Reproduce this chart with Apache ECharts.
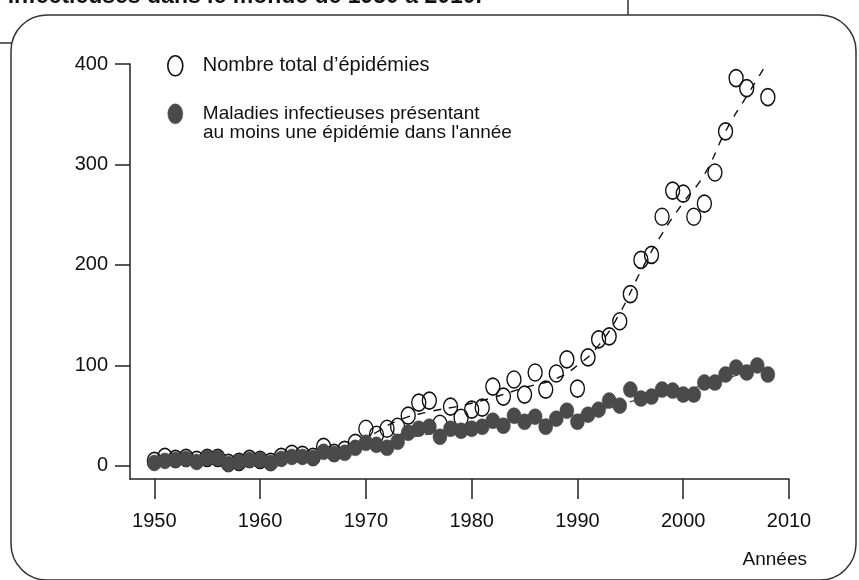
<!DOCTYPE html>
<html>
<head>
<meta charset="utf-8">
<title>Épidémies</title>
<script src="https://cdn.jsdelivr.net/npm/echarts@6/dist/echarts.min.js"></script>
<style>
  html, body { margin: 0; padding: 0; background: #fff; }
  #chart { width: 859px; height: 580px; }
</style>
</head>
<body>
<div id="chart"></div>
<script>
  // années observées
  var years = [1950, 1951, 1952, 1953, 1954, 1955, 1956, 1957, 1958, 1959,
    1960, 1961, 1962, 1963, 1964, 1965, 1966, 1967, 1968, 1969,
    1970, 1971, 1972, 1973, 1974, 1975, 1976, 1977, 1978, 1979,
    1980, 1981, 1982, 1983, 1984, 1985, 1986, 1987, 1988, 1989,
    1990, 1991, 1992, 1993, 1994, 1995, 1996, 1997, 1998, 1999,
    2000, 2001, 2002, 2003, 2004, 2005, 2006, 2007, 2008];
  // nombre total d'épidémies (cercles vides)
  var totalEpidemies = [5, 9, 7, 8, 6, 8, 8, 3, 4, 7,
    6, 4, 9, 12, 11, 9, 19, 13, 16, 23,
    37, 31, 37, 39, 50, 63, 65, 42, 59, 48,
    56, 58, 79, 69, 86, 71, 93, 76, 92, 106,
    77, 108, 126, 129, 144, 171, 205, 210, 248, 274,
    271, 248, 261, 292, 333, 386, 376, 418, 367];
  // maladies présentant au moins une épidémie (cercles pleins)
  var maladies = [3, 5, 6, 7, 4, 8, 8, 2, 4, 6,
    6, 3, 7, 9, 9, 8, 14, 12, 13, 18,
    23, 21, 18, 24, 33, 37, 39, 29, 37, 35,
    37, 39, 45, 40, 50, 44, 49, 39, 47, 55,
    44, 51, 56, 65, 60, 76, 67, 69, 76, 75,
    71, 71, 83, 83, 91, 98, 93, 100, 91];
  // courbes de tendance (pointillés)
  var totalTrendYears = [1950, 1955, 1960, 1964, 1967, 1970, 1973, 1976, 1979, 1982, 1985,
    1988, 1990, 1992, 1994, 1996, 1998, 2000, 2002, 2004, 2006, 2008];
  var totalTrend = [5, 6, 6, 9, 16, 28, 45, 54, 60, 68, 78,
    87, 100, 120, 152, 194, 231, 262, 290, 333, 368, 402];
  var maladiesTrendYears = [1950, 1955, 1960, 1965, 1970, 1975, 1980, 1985, 1990, 1995, 2000, 2005, 2008];
  var maladiesTrend = [4, 5, 5, 8, 19, 30, 37, 44, 51, 64, 75, 90, 98];
  // graduations
  var xTicks = [1950, 1960, 1970, 1980, 1990, 2000, 2010];
  var yTicks = [0, 100, 200, 300, 400];

  var FONT = '"Liberation Sans", Arial, Helvetica, sans-serif';
  var ELLIPSE = 'path://M1,0A1,1,0,1,1,-1,0A1,1,0,1,1,1,0Z';

  function pairs(xs, ys) {
    return xs.map(function (x, i) { return [x, ys[i]]; });
  }

  var chart = echarts.init(document.getElementById('chart'), null, { renderer: 'canvas' });

  var option = {
    animation: false,
    backgroundColor: '#fff',
    textStyle: { fontFamily: FONT },
    grid: { left: 130, right: 70, top: 64, bottom: 101 },
    legend: {
      orient: 'vertical',
      left: 162,
      top: 50,
      itemWidth: 15,
      itemHeight: 20,
      itemGap: 27,
      symbolKeepAspect: false,
      selectedMode: false,
      data: [
        {
          name: 'Nombre total d\u2019épidémies',
          icon: ELLIPSE,
          itemStyle: { color: 'rgba(255,255,255,0)', borderColor: '#111', borderWidth: 1.6 }
        },
        {
          name: 'Maladies infectieuses présentant',
          icon: ELLIPSE,
          itemStyle: { color: '#4a4a4a', borderColor: '#4a4a4a', borderWidth: 0.5 },
          textStyle: { fontSize: 19 }
        }
      ],
      textStyle: { fontSize: 20, color: '#111', fontFamily: FONT, padding: [0, 0, 0, 15] }
    },
    xAxis: {
      type: 'value',
      min: 1947.7,
      max: 2010,
      splitLine: { show: false },
      axisLine: { show: true, onZero: false, lineStyle: { color: '#222', width: 1.5 } },
      axisTick: { show: true, length: 20, customValues: xTicks, lineStyle: { color: '#222', width: 1.5 } },
      axisLabel: {
        customValues: xTicks, margin: 32, fontSize: 20, color: '#111', fontFamily: FONT,
        formatter: function (v) { return String(v); }
      }
    },
    yAxis: {
      type: 'value',
      min: -13,
      max: 400,
      splitLine: { show: false },
      axisLine: { show: true, onZero: false, lineStyle: { color: '#222', width: 1.5 } },
      axisTick: { show: true, length: 15, customValues: yTicks, lineStyle: { color: '#222', width: 1.5 } },
      axisLabel: { customValues: yTicks, margin: 22, fontSize: 20, color: '#111', fontFamily: FONT }
    },
    series: [
      {
        name: 'tendance totale',
        type: 'line',
        smooth: true,
        symbol: 'none',
        data: pairs(totalTrendYears, totalTrend),
        lineStyle: { color: '#111', width: 1.4, type: [8, 8] },
        z: 2
      },
      {
        name: 'Nombre total d\u2019épidémies',
        type: 'scatter',
        symbol: ELLIPSE,
        symbolSize: [14, 17],
        data: pairs(years, totalEpidemies),
        itemStyle: { color: 'rgba(255,255,255,0)', borderColor: '#111', borderWidth: 1.5, opacity: 1 },
        z: 3
      },
      {
        name: 'tendance maladies',
        type: 'line',
        smooth: true,
        symbol: 'none',
        data: pairs(maladiesTrendYears, maladiesTrend),
        lineStyle: { color: '#444', width: 1.2, type: [7, 6] },
        z: 4
      },
      {
        name: 'Maladies infectieuses présentant',
        type: 'scatter',
        symbol: ELLIPSE,
        symbolSize: [14, 16],
        data: pairs(years, maladies),
        itemStyle: { color: '#4a4a4a', borderColor: '#4a4a4a', borderWidth: 0.5, opacity: 1 },
        z: 5
      }
    ],
    graphic: [
      // cadre arrondi du document
      {
        type: 'rect',
        shape: { x: 11, y: 15, width: 845, height: 565, r: 36 },
        style: { fill: 'none', stroke: '#333', lineWidth: 1.5 },
        z: 0
      },
      { type: 'line', shape: { x1: 628, y1: 0, x2: 628, y2: 15 }, style: { stroke: '#333', lineWidth: 1.5 } },
      { type: 'line', shape: { x1: 0, y1: 43, x2: 12, y2: 43 }, style: { stroke: '#333', lineWidth: 1.5 } },
      // titre coupé en haut
      {
        type: 'text',
        x: 482, y: 8,
        style: {
          text: 'Évolution du nombre d\u2019épidémies de maladies infectieuses dans le monde de 1950 à 2010.',
          font: 'bold 23px ' + FONT, fill: '#111', align: 'right', verticalAlign: 'bottom'
        }
      },
      // deuxième ligne de la légende
      {
        type: 'text',
        x: 203, y: 133,
        style: { text: 'au moins une épidémie dans l\'année', font: '19px ' + FONT, fill: '#111', verticalAlign: 'middle' }
      },
      // titre de l'axe des abscisses
      {
        type: 'text',
        x: 807, y: 560,
        style: { text: 'Années', font: '19px ' + FONT, fill: '#111', align: 'right', verticalAlign: 'middle' }
      }
    ]
  };

  chart.setOption(option);
</script>
</body>
</html>
